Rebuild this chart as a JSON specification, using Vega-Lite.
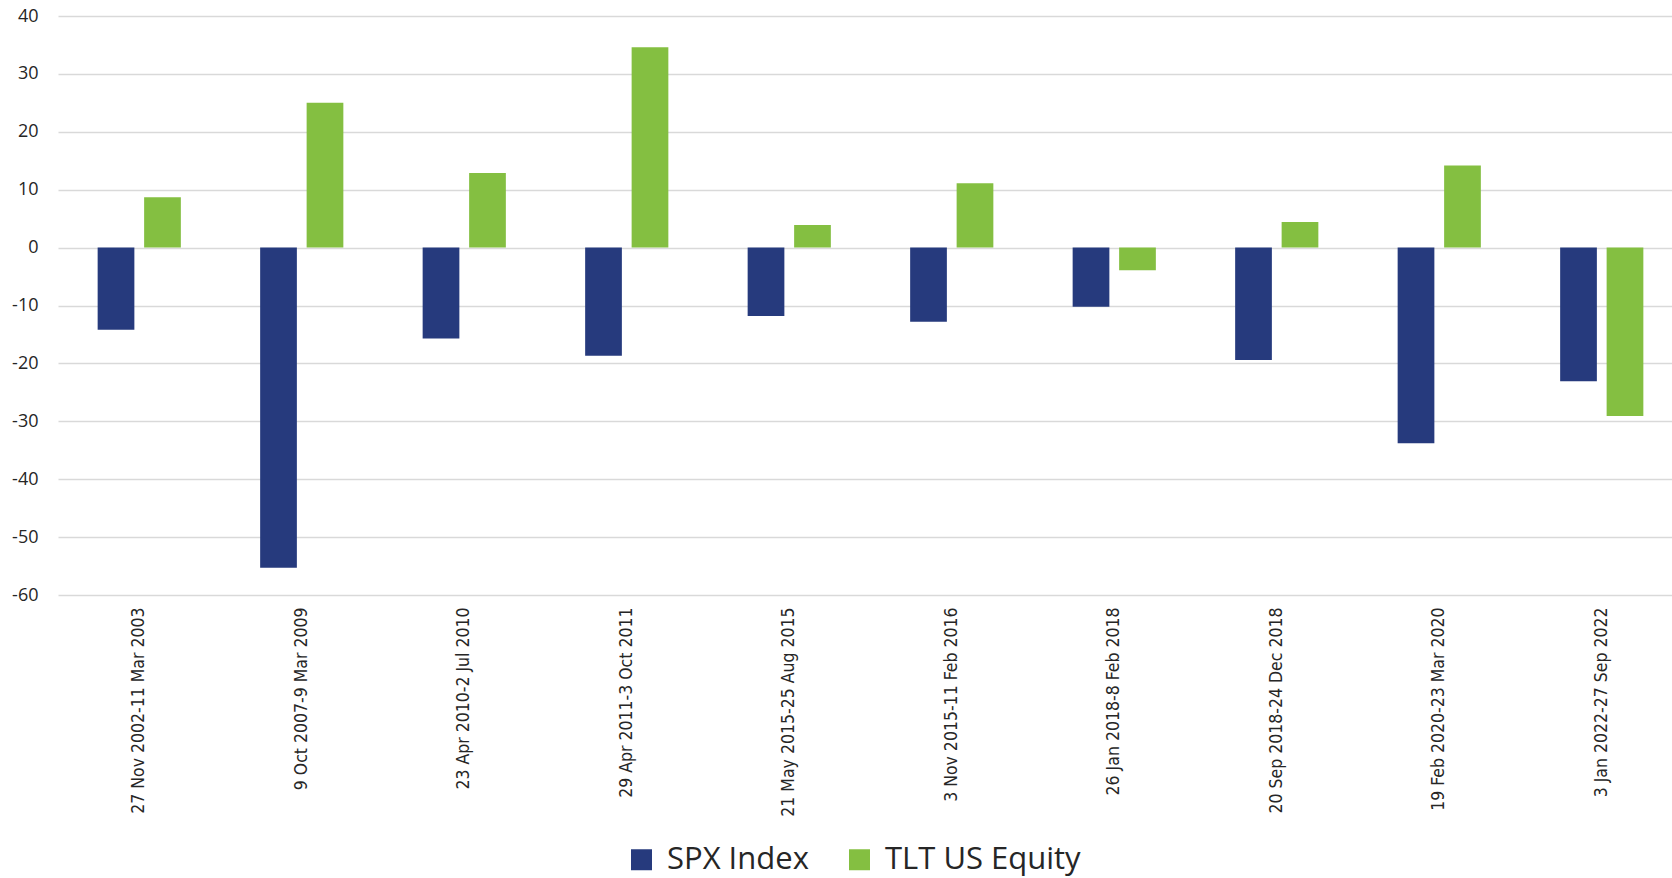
{
  "$schema": "https://vega.github.io/schema/vega-lite/v6.json",
  "width": 1625,
  "height": 579,
  "autosize": {"type": "none"},
  "padding": {"left": 58, "top": 16, "right": -11, "bottom": 283},
  "background": "white",
  "config": {"view": {"stroke": null}},
  "data": {
    "values": [
      {"period": "27 Nov 2002-11 Mar 2003", "series": "SPX Index", "value": -14.2},
      {"period": "27 Nov 2002-11 Mar 2003", "series": "TLT US Equity", "value": 8.7},
      {"period": "9 Oct 2007-9 Mar 2009", "series": "SPX Index", "value": -55.3},
      {"period": "9 Oct 2007-9 Mar 2009", "series": "TLT US Equity", "value": 25.0},
      {"period": "23 Apr 2010-2 Jul 2010", "series": "SPX Index", "value": -15.7},
      {"period": "23 Apr 2010-2 Jul 2010", "series": "TLT US Equity", "value": 12.9},
      {"period": "29 Apr 2011-3 Oct 2011", "series": "SPX Index", "value": -18.7},
      {"period": "29 Apr 2011-3 Oct 2011", "series": "TLT US Equity", "value": 34.6},
      {"period": "21 May 2015-25 Aug 2015", "series": "SPX Index", "value": -11.8},
      {"period": "21 May 2015-25 Aug 2015", "series": "TLT US Equity", "value": 3.9},
      {"period": "3 Nov 2015-11 Feb 2016", "series": "SPX Index", "value": -12.8},
      {"period": "3 Nov 2015-11 Feb 2016", "series": "TLT US Equity", "value": 11.1},
      {"period": "26 Jan 2018-8 Feb 2018", "series": "SPX Index", "value": -10.2},
      {"period": "26 Jan 2018-8 Feb 2018", "series": "TLT US Equity", "value": -3.9},
      {"period": "20 Sep 2018-24 Dec 2018", "series": "SPX Index", "value": -19.4},
      {"period": "20 Sep 2018-24 Dec 2018", "series": "TLT US Equity", "value": 4.4},
      {"period": "19 Feb 2020-23 Mar 2020", "series": "SPX Index", "value": -33.8},
      {"period": "19 Feb 2020-23 Mar 2020", "series": "TLT US Equity", "value": 14.2},
      {"period": "3 Jan 2022-27 Sep 2022", "series": "SPX Index", "value": -23.1},
      {"period": "3 Jan 2022-27 Sep 2022", "series": "TLT US Equity", "value": -29.1}
    ]
  },
  "mark": {"type": "bar"},
  "encoding": {
    "x": {
      "field": "period",
      "type": "nominal",
      "sort": null,
      "title": null,
      "scale": {"paddingInner": 0.488, "paddingOuter": 0.244},
      "axis": {
        "labelAngle": -90,
        "labelFont": "DejaVu Sans Condensed",
        "labelFontSize": 17.5,
        "labelColor": "#262626",
        "labelPadding": 12,
        "ticks": false,
        "domain": false,
        "grid": false,
        "labelLimit": 400
      }
    },
    "xOffset": {
      "field": "series",
      "type": "nominal",
      "scale": {"paddingInner": 0.21, "paddingOuter": 0}
    },
    "y": {
      "field": "value",
      "type": "quantitative",
      "title": null,
      "scale": {"domain": [-60, 40], "nice": false, "zero": false},
      "axis": {
        "values": [-60, -50, -40, -30, -20, -10, 0, 10, 20, 30, 40],
        "labelExpr": "'' + datum.value",
        "labelFont": "Open Sans",
        "labelFontSize": 18,
        "labelColor": "#262626",
        "labelPadding": 20,
        "ticks": false,
        "domain": false,
        "gridColor": "#d9d9d9",
        "gridWidth": 1.5
      }
    },
    "color": {
      "field": "series",
      "type": "nominal",
      "title": null,
      "scale": {"domain": ["SPX Index", "TLT US Equity"], "range": ["#263a7d", "#84bf41"]},
      "legend": {
        "orient": "none",
        "direction": "horizontal",
        "legendX": 568,
        "legendY": 828,
        "symbolType": "square",
        "symbolSize": 441,
        "symbolStrokeWidth": 0,
        "symbolOpacity": 1,
        "labelFont": "Open Sans",
        "labelFontSize": 31,
        "labelColor": "#262626",
        "labelOffset": 10,
        "columnPadding": 35,
        "labelLimit": 400
      }
    }
  }
}
